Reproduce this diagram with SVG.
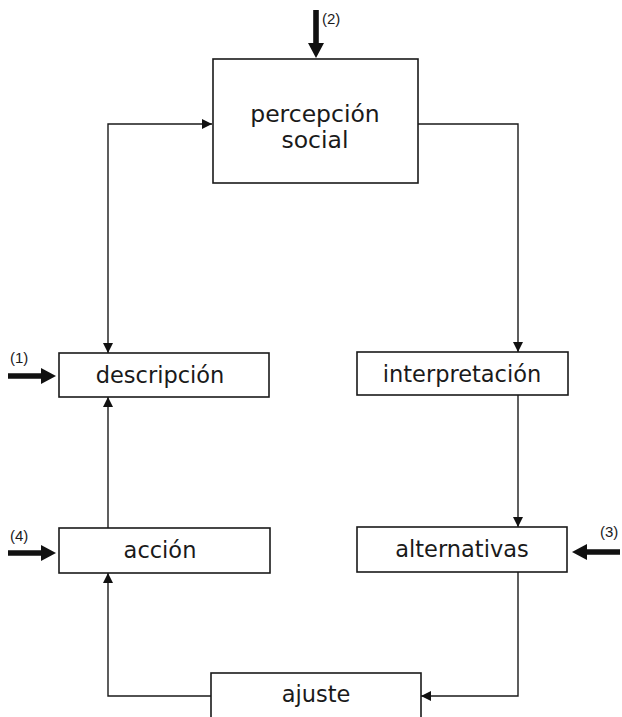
<svg xmlns="http://www.w3.org/2000/svg" width="622" height="717" viewBox="0 0 622 717">
  <style>
    .box { fill: #fff; stroke: #1a1a1a; stroke-width: 1.6; }
    .lbl { font-family: "DejaVu Sans", "Liberation Sans", sans-serif; font-size: 22.5px; fill: #1a1a1a; text-anchor: middle; }
    .num { font-family: "Liberation Sans", "DejaVu Sans", sans-serif; font-size: 15px; fill: #1a1a1a; }
    .wire { fill: none; stroke: #1a1a1a; stroke-width: 1.4; }
    .input { fill: #111; }
  </style>
  <defs>
    <marker id="tip" viewBox="0 0 10 10" refX="10" refY="5" markerWidth="10" markerHeight="10" markerUnits="userSpaceOnUse" orient="auto-start-reverse">
      <path d="M0,0 L10,5 L0,10 Z" fill="#111"/>
    </marker>
    <!-- thick input arrow pointing right, tip at origin -->
    <path id="inArrow" d="M-48,-2.8 H-15 V-8 L0,0 L-15,8 V2.8 H-48 Z"/>
  </defs>

  <rect width="622" height="717" fill="#fff"/>

  <!-- connectors -->
  <g id="connectors">
    <!-- percepción social <-> descripción -->
    <path class="wire" d="M108,353 V124 H212" marker-start="url(#tip)" marker-end="url(#tip)"/>
    <!-- percepción social -> interpretación -->
    <path class="wire" d="M418,124 H518 V352" marker-end="url(#tip)"/>
    <!-- interpretación -> alternativas -->
    <path class="wire" d="M518,395 V527" marker-end="url(#tip)"/>
    <!-- alternativas -> ajuste -->
    <path class="wire" d="M518,572 V696 H421" marker-end="url(#tip)"/>
    <!-- ajuste -> acción -->
    <path class="wire" d="M211,696 H108 V573" marker-end="url(#tip)"/>
    <!-- acción -> descripción -->
    <path class="wire" d="M108,528 V397" marker-end="url(#tip)"/>

    <!-- external inputs -->
    <use href="#inArrow" class="input" transform="translate(316,58) rotate(90)"/>
    <use href="#inArrow" class="input" transform="translate(56,376)"/>
    <use href="#inArrow" class="input" transform="translate(56,553)"/>
    <use href="#inArrow" class="input" transform="translate(572,552) rotate(180)"/>
  </g>

  <g id="input-labels">
    <text class="num" x="322" y="24">(2)</text>
    <text class="num" x="10" y="363">(1)</text>
    <text class="num" x="10" y="541">(4)</text>
    <text class="num" x="600" y="537">(3)</text>
  </g>

  <g id="percepcion">
    <rect class="box" x="213" y="59" width="205" height="124"/>
    <text class="lbl" x="315" y="122" style="font-size:23.5px">percepción</text>
    <text class="lbl" x="315" y="148" style="font-size:23.5px">social</text>
  </g>

  <g id="descripcion">
    <rect class="box" x="59" y="353" width="210" height="44"/>
    <text class="lbl" x="160" y="383">descripción</text>
  </g>

  <g id="interpretacion">
    <rect class="box" x="357" y="352" width="211" height="43"/>
    <text class="lbl" x="462" y="382">interpretación</text>
  </g>

  <g id="accion">
    <rect class="box" x="59" y="528" width="211" height="45"/>
    <text class="lbl" x="160" y="558">acción</text>
  </g>

  <g id="alternativas">
    <rect class="box" x="357" y="527" width="210" height="45"/>
    <text class="lbl" x="462" y="557">alternativas</text>
  </g>

  <g id="ajuste">
    <rect class="box" x="211" y="673" width="210" height="60"/>
    <text class="lbl" x="316" y="702">ajuste</text>
  </g>
</svg>
